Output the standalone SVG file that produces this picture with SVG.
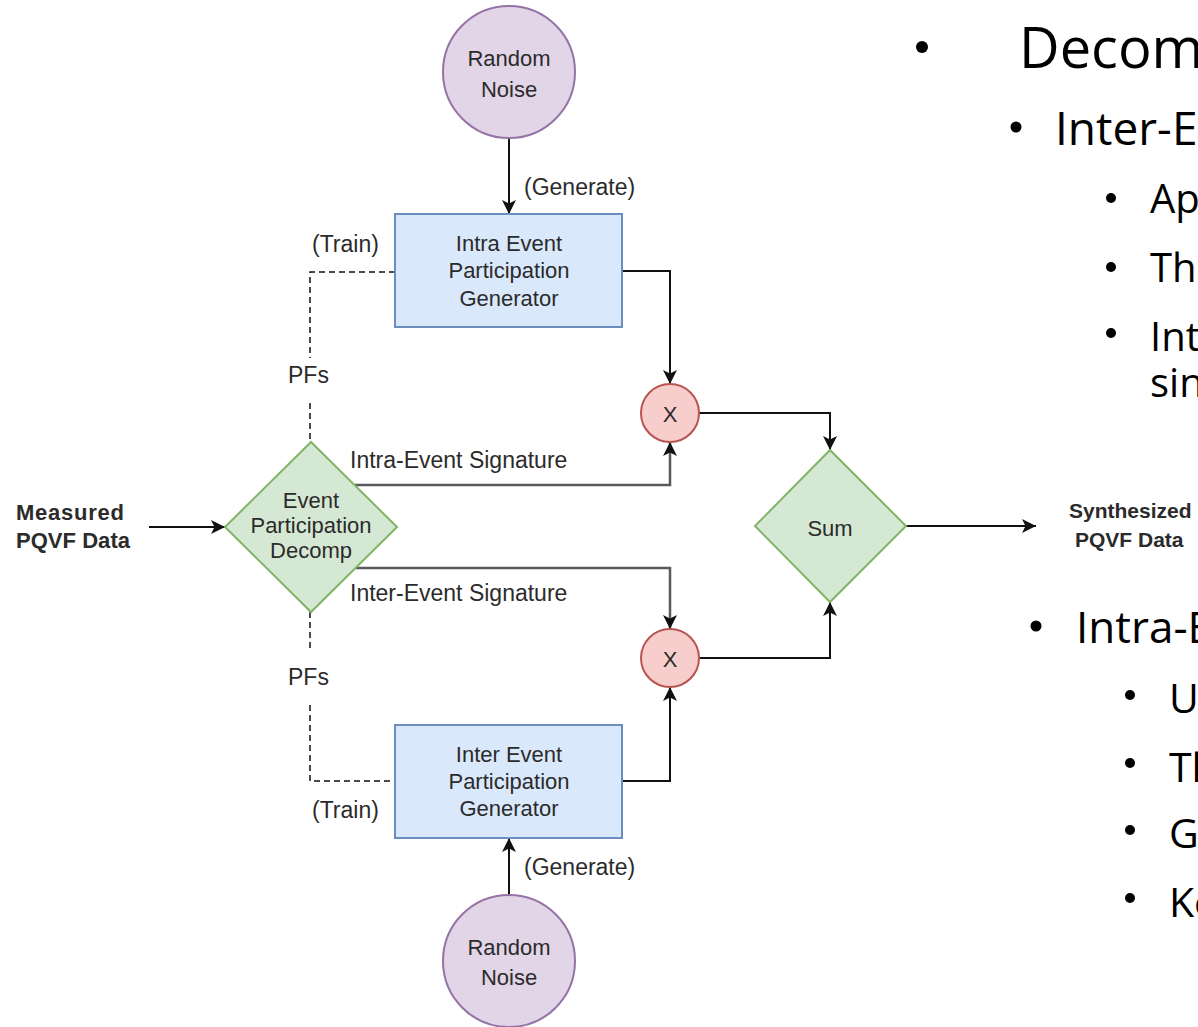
<svg xmlns="http://www.w3.org/2000/svg" width="1198" height="1027" viewBox="0 0 1198 1027">
<style>
.lbl{font-family:"Liberation Sans",Arial,sans-serif;fill:#2b2b2b;font-size:23px}
.node{font-family:"Liberation Sans",Arial,sans-serif;fill:#2b2b2b;font-size:22px;text-anchor:middle}
.bold{font-family:"Liberation Sans",Arial,sans-serif;fill:#2b2b2b;font-weight:bold}
.conn{fill:none;stroke:#111;stroke-width:2}
.sig{fill:none;stroke:#5a5a5a;stroke-width:2.5}
.dash{fill:none;stroke:#111;stroke-width:1.5;stroke-dasharray:6 4}
.noise{fill:#e1d5e7;stroke:#9673a6;stroke-width:2}
.mult{fill:#f8cecc;stroke:#b85450;stroke-width:2}
.gen{fill:#dae8fc;stroke:#6c8ebf;stroke-width:2}
.dia{fill:#d5e8d4;stroke:#82b366;stroke-width:2}
.bt{font-family:"Open Sans","Liberation Sans",sans-serif;fill:#000}
</style>
<defs>
<marker id="arr" markerUnits="userSpaceOnUse" markerWidth="15" markerHeight="14" refX="14" refY="7" orient="auto">
<path d="M0,0 L14,7 L0,14 L3.5,7 z" fill="#111"/>
</marker>
</defs>
<rect width="1198" height="1027" fill="#fff"/>

<g id="connectors">
<line class="conn" x1="509" y1="138" x2="509" y2="214" marker-end="url(#arr)"/>
<polyline class="conn" points="622,271 670,271 670,384" marker-end="url(#arr)"/>
<polyline class="sig" points="355,485 670,485 670,442" marker-end="url(#arr)"/>
<polyline class="conn" points="699,413 830,413 830,450" marker-end="url(#arr)"/>
<polyline class="sig" points="356,568 670,568 670,629" marker-end="url(#arr)"/>
<polyline class="conn" points="699,658 830,658 830,602" marker-end="url(#arr)"/>
<polyline class="conn" points="622,781 670,781 670,687" marker-end="url(#arr)"/>
<line class="conn" x1="509" y1="895" x2="509" y2="838" marker-end="url(#arr)"/>
<line class="conn" x1="149" y1="527" x2="225" y2="527" marker-end="url(#arr)"/>
<line class="conn" x1="906" y1="526" x2="1036" y2="526" marker-end="url(#arr)"/>
<polyline class="dash" points="395,272 310,272 310,358"/>
<line class="dash" x1="310" y1="403" x2="310" y2="442"/>
<line class="dash" x1="310" y1="612" x2="310" y2="650"/>
<polyline class="dash" points="310,705 310,781 395,781"/>
<text class="lbl" x="524" y="195">(Generate)</text>
<text class="lbl" x="312" y="252">(Train)</text>
<text class="lbl" x="288" y="383">PFs</text>
<text class="lbl" x="350" y="468">Intra-Event Signature</text>
<text class="lbl" x="350" y="601">Inter-Event Signature</text>
<text class="lbl" x="288" y="685">PFs</text>
<text class="lbl" x="312" y="818">(Train)</text>
<text class="lbl" x="524" y="875">(Generate)</text>
</g>

<g id="noise-top">
<circle class="noise" cx="509" cy="72" r="66"/>
<text class="node" x="509" y="66" font-size="24">Random</text>
<text class="node" x="509" y="97" font-size="24">Noise</text>
</g>

<g id="intra-gen">
<rect class="gen" x="395" y="214" width="227" height="113"/>
<text class="node" x="509" y="251">Intra Event</text>
<text class="node" x="509" y="278">Participation</text>
<text class="node" x="509" y="306">Generator</text>
</g>

<g id="x-top">
<circle class="mult" cx="670" cy="413" r="29"/>
<text class="node" x="670" y="422" font-size="25">X</text>
</g>

<g id="decomp">
<polygon class="dia" points="311,442 397,527 311,612 225,527"/>
<text class="node" x="311" y="508">Event</text>
<text class="node" x="311" y="533">Participation</text>
<text class="node" x="311" y="558">Decomp</text>
</g>

<g id="measured">
<text class="bold" x="16" y="520" font-size="22" textLength="108">Measured</text>
<text class="bold" x="16" y="548" font-size="22" textLength="114">PQVF Data</text>
</g>

<g id="sum">
<polygon class="dia" points="830,450 906,526 830,602 755,526"/>
<text class="node" x="830" y="536" font-size="24">Sum</text>
</g>

<g id="synth">
<text class="bold" x="1069" y="518" font-size="21">Synthesized</text>
<text class="bold" x="1075" y="547" font-size="21">PQVF Data</text>
</g>

<g id="x-bottom">
<circle class="mult" cx="670" cy="658" r="29"/>
<text class="node" x="670" y="667" font-size="25">X</text>
</g>

<g id="inter-gen">
<rect class="gen" x="395" y="725" width="227" height="113"/>
<text class="node" x="509" y="762">Inter Event</text>
<text class="node" x="509" y="789">Participation</text>
<text class="node" x="509" y="816">Generator</text>
</g>

<g id="noise-bottom">
<circle class="noise" cx="509" cy="961" r="66"/>
<text class="node" x="509" y="955" font-size="24">Random</text>
<text class="node" x="509" y="985" font-size="24">Noise</text>
</g>

<g id="bullets">
<circle cx="922" cy="47" r="6" fill="#000"/>
<text class="bt" x="1019" y="68" font-size="56">Decom</text>
<circle cx="1016" cy="127" r="5.5" fill="#000"/>
<text class="bt" x="1055" y="145" font-size="46">Inter-E</text>
<circle cx="1111" cy="198" r="5" fill="#000"/>
<text class="bt" x="1150" y="213" font-size="40">Ap</text>
<circle cx="1111" cy="267" r="5" fill="#000"/>
<text class="bt" x="1150" y="282" font-size="40">Th</text>
<circle cx="1111" cy="333" r="5" fill="#000"/>
<text class="bt" x="1150" y="351" font-size="40">Int</text>
<text class="bt" x="1150" y="397" font-size="40">sin</text>
<circle cx="1036" cy="626" r="5.5" fill="#000"/>
<text class="bt" x="1076" y="643" font-size="44">Intra-E</text>
<circle cx="1130" cy="695" r="5" fill="#000"/>
<text class="bt" x="1169" y="713" font-size="41">U</text>
<circle cx="1130" cy="763" r="5" fill="#000"/>
<text class="bt" x="1169" y="782" font-size="41">Th</text>
<circle cx="1130" cy="830" r="5" fill="#000"/>
<text class="bt" x="1169" y="848" font-size="41">G</text>
<circle cx="1130" cy="898" r="5" fill="#000"/>
<text class="bt" x="1169" y="917" font-size="41">Ke</text>
</g>
</svg>
